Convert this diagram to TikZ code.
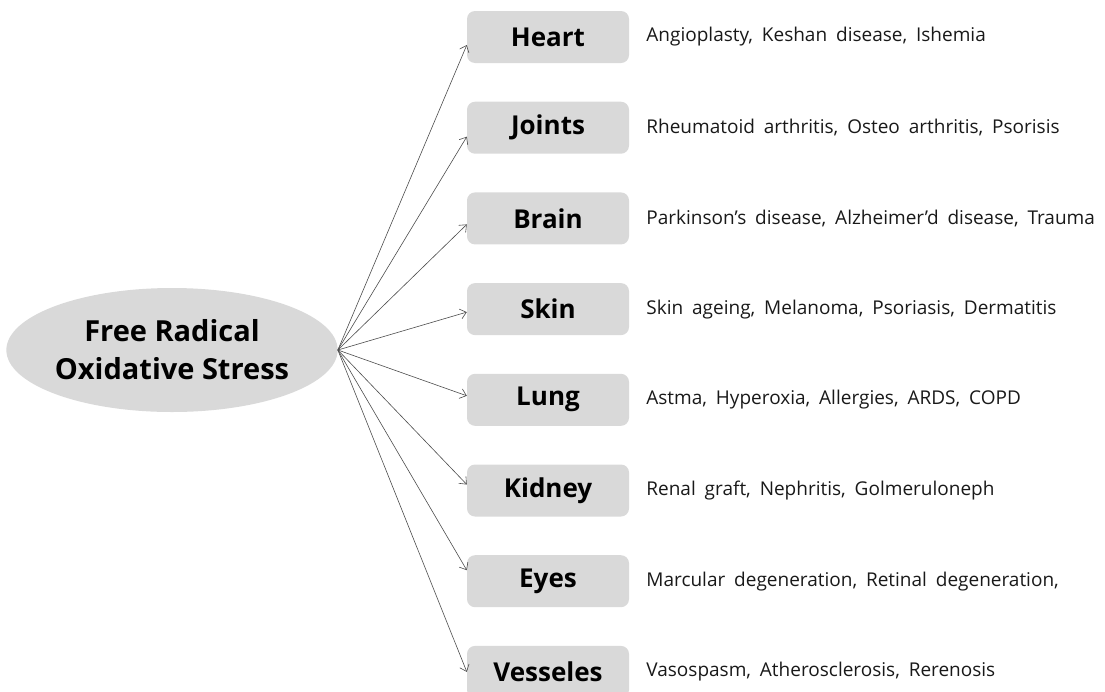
\documentclass[tikz,border=0pt]{standalone}
\usepackage{fontspec}
\setmainfont{Open Sans}
\newfontfamily\descfamily{Open Sans}[WordSpace=1.8]
\usepackage{tikz}
\usetikzlibrary{positioning,arrows.meta,shapes.geometric}

\definecolor{boxgray}{HTML}{D9D9D9}

\begin{document}
\begin{tikzpicture}[x=1pt, y=-1pt,
    organ/.style={fill=boxgray, rounded corners=8pt, align=center,
                  font=\bfseries\fontsize{26}{30}\selectfont,
                  minimum width=162pt, minimum height=52pt, inner sep=0pt},
    desc/.style={font=\descfamily\fontsize{19}{22}\selectfont,
                 text=black!90, inner sep=0pt, anchor=west},
    link/.style={-{Straight Barb[length=6pt, width=10pt]}, line width=0.6pt, black!70},
    node distance=38.3pt
  ]
    \useasboundingbox (0,0) rectangle (1105,691);

    \node[ellipse, fill=boxgray, minimum width=323pt, minimum height=124pt,
          align=center, inner sep=0pt,
          font=\bfseries\fontsize{29}{38}\selectfont] (stress) at (172,350) {
      Free Radical\\
      Oxidative Stress
    };

    \node[organ] (heart) at (548,37) {Heart};
    \node[organ, below=of heart] (joints) {Joints};
    \node[organ, below=of joints] (brain) {Brain};
    \node[organ, below=of brain] (skin) {Skin};
    \node[organ, below=of skin] (lung) {Lung};
    \node[organ, below=of lung] (kidney) {Kidney};
    \node[organ, below=of kidney] (eyes) {Eyes};
    \node[organ, below=of eyes] (vessels) {Vesseles};

    \node[desc, right=17pt of heart] (heartdesc) {Angioplasty, Keshan disease, Ishemia};
    \node[desc, right=17pt of joints] (jointsdesc) {Rheumatoid arthritis, Osteo arthritis, Psorisis};
    \node[desc, right=17pt of brain] (braindesc) {Parkinson’s disease, Alzheimer’d disease, Trauma};
    \node[desc, right=17pt of skin] (skindesc) {Skin ageing, Melanoma, Psoriasis, Dermatitis};
    \node[desc, right=17pt of lung] (lungdesc) {Astma, Hyperoxia, Allergies, ARDS, COPD};
    \node[desc, right=17pt of kidney] (kidneydesc) {Renal graft, Nephritis, Golmeruloneph};
    \node[desc, right=17pt of eyes] (eyesdesc) {Marcular degeneration, Retinal degeneration,};
    \node[desc, right=17pt of vessels] (vesselsdesc) {Vasospasm, Atherosclerosis, Rerenosis};

    \draw[link] (stress.east) -- ([yshift=-8pt]heart.west);
    \draw[link] (stress.east) -- ([yshift=-9pt]joints.west);
    \draw[link] (stress.east) -- ([yshift=-6pt]brain.west);
    \draw[link] (stress.east) -- ([yshift=-3pt]skin.west);
    \draw[link] (stress.east) -- ([yshift=4pt]lung.west);
    \draw[link] (stress.east) -- ([yshift=6pt]kidney.west);
    \draw[link] (stress.east) -- ([yshift=11pt]eyes.west);
    \draw[link] (stress.east) -- (vessels.west);
  \end{tikzpicture}
\end{document}
